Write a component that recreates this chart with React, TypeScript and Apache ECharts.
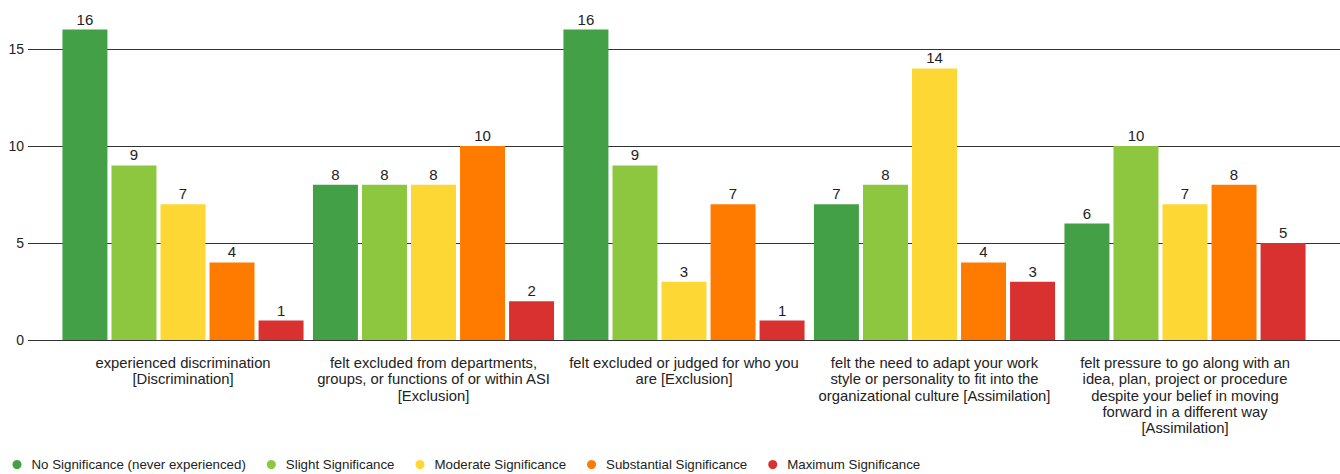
import React, { useEffect, useRef } from "react";
import * as echarts from "echarts";

const categories = [
  "experienced discrimination\n[Discrimination]",
  "felt excluded from departments,\ngroups, or functions of or within ASI\n[Exclusion]",
  "felt excluded or judged for who you\nare [Exclusion]",
  "felt the need to adapt your work\nstyle or personality to fit into the\norganizational culture [Assimilation]",
  "felt pressure to go along with an\nidea, plan, project or procedure\ndespite your belief in moving\nforward in a different way\n[Assimilation]",
];

const seriesNames = [
  "No Significance (never experienced)",
  "Slight Significance",
  "Moderate Significance",
  "Substantial Significance",
  "Maximum Significance",
];

const noSignificance = [16, 8, 16, 7, 6];
const slightSignificance = [9, 8, 9, 8, 10];
const moderateSignificance = [7, 8, 3, 14, 7];
const substantialSignificance = [4, 10, 7, 4, 8];
const maximumSignificance = [1, 2, 1, 3, 5];

const seriesValues = [
  noSignificance,
  slightSignificance,
  moderateSignificance,
  substantialSignificance,
  maximumSignificance,
];

const colors = ["#43a047", "#8dc63f", "#fdd835", "#ff7b00", "#d93030"];

const FONT = "'Liberation Sans', Arial, sans-serif";

export default function App() {
  const ref = useRef<HTMLDivElement>(null);

  useEffect(() => {
    if (!ref.current) return;
    const chart = echarts.init(ref.current, undefined, { renderer: "svg" });
    const yCommon = {
      type: "value" as const,
      min: 0,
      max: 17.5,
      interval: 5,
    };
    chart.setOption({
      animation: false,
      backgroundColor: "#ffffff",
      textStyle: { fontFamily: FONT },
      legend: {
        left: 12.5,
        top: 458,
        padding: 0,
        icon: "circle",
        itemWidth: 9,
        itemHeight: 9,
        itemGap: 21,
        textStyle: {
          fontFamily: FONT,
          fontSize: 13.3,
          color: "#222",
          padding: [0, 0, 0, 5],
        },
        data: seriesNames,
      },
      grid: [
        { left: 28, right: 0, top: 0.5, bottom: 134, containLabel: false },
        { left: 57.75, right: 29.75, top: 0.5, bottom: 134, containLabel: false },
      ],
      xAxis: [
        {
          gridIndex: 0,
          type: "value",
          min: 0,
          max: 1,
          show: false,
        },
        {
          gridIndex: 1,
          type: "category",
          data: categories,
          axisLine: { show: false },
          axisTick: { show: false },
          axisLabel: {
            margin: 15,
            fontFamily: FONT,
            fontSize: 14.8,
            color: "#222",
            lineHeight: 16.3,
            interval: 0,
            align: "center",
          },
        },
      ],
      yAxis: [
        {
          ...yCommon,
          gridIndex: 0,
          axisLine: { show: false },
          axisTick: { show: false },
          axisLabel: {
            margin: 4,
            fontFamily: FONT,
            fontSize: 14,
            color: "#222",
            showMaxLabel: false,
            formatter: (v: number) => (v % 5 === 0 ? String(v) : ""),
          },
          splitLine: {
            show: true,
            showMaxLine: false,
            lineStyle: { color: "#333", width: 1 },
          },
        },
        {
          ...yCommon,
          gridIndex: 1,
          show: false,
          splitLine: { show: false },
        },
      ],
      series: seriesValues.map((vals, i) => ({
        name: seriesNames[i],
        type: "bar",
        xAxisIndex: 1,
        yAxisIndex: 1,
        data: vals,
        itemStyle: { color: colors[i] },
        barGap: "9%",
        barCategoryGap: "3.75%",
        label: {
          show: true,
          position: "top",
          distance: 3,
          fontFamily: FONT,
          fontSize: 15,
          color: "#222",
        },
      })),
    });
    return () => chart.dispose();
  }, []);

  return (
    <div
      ref={ref}
      style={{ position: "fixed", left: 0, top: 0, width: 1340, height: 474 }}
    />
  );
}
